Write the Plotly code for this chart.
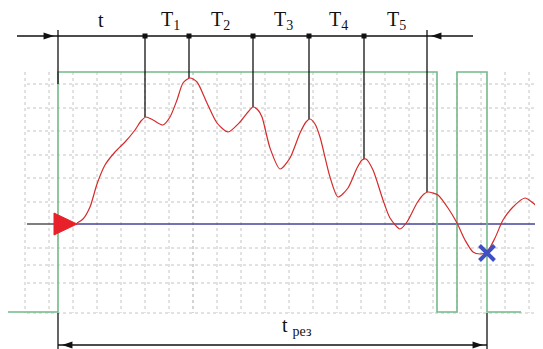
import plotly.graph_objects as go

W, H = 543, 349
PAGE_MARGIN = 8  # default body margin of the html page

# ---- data (diagram coordinates: x to the right, y downward) ----
# oscillating response curve
curve_x = [77, 83, 90, 97, 105, 115, 125, 135, 141, 146, 153, 163, 170, 177, 183, 190, 197, 207, 217, 228,
           240, 248, 253, 258, 262, 270, 280, 290, 300, 306, 310, 315, 320, 330, 338, 348, 357, 362, 366,
           373, 383, 390, 400, 407, 417, 424, 428, 433, 438, 448, 457, 465, 473, 480, 487, 495, 503, 513,
           525, 533, 543]
curve_y = [223, 219, 207, 184, 165, 152, 142, 130, 121, 117, 120, 125, 117, 100, 83, 78, 82, 103, 123, 132,
           122, 112, 107, 110, 117, 148, 169, 158, 133, 122, 119, 124, 137, 177, 197, 188, 168, 160, 159,
           170, 200, 218, 229, 222, 203, 194, 192, 193, 195, 208, 223, 240, 252, 254, 252, 238, 220, 207,
           198, 203, 212]

# square-wave (green) signal
pulse_x = [7, 58, 58, 437, 437, 457, 457, 487, 487, 521]
pulse_y = [312, 312, 72, 72, 312, 312, 72, 72, 312, 312]

# period marks (peaks) on the top scale
mark_x = [145, 189, 253, 309, 364]
mark_peak_y = [117, 78, 107, 119, 159]
end_x, end_peak_y = 427, 192

labels_top = ["t", "T<sub>1</sub>", "T<sub>2</sub>", "T<sub>3</sub>", "T<sub>4</sub>", "T<sub>5</sub>"]
labels_top_x = [101, 170, 220, 283, 338, 396]

grid_x = [25, 49, 73, 97, 121, 145, 169, 217, 241, 265, 289, 313, 337, 361, 385, 409, 433, 457,
          481, 505, 529]
grid_x_major = [193]
grid_y = [84, 108, 131, 155, 178, 202, 248, 265, 283, 313]

base_y = 224
cross_x, cross_y = 487, 253

scale_y = 36
bottom_y = 345
start_x = 58
t_res_end = 487

fig = go.Figure()

# grid
gx, gy = [], []
for x in grid_x:
    gx += [x, x, None]
    gy += [72, 313, None]
fig.add_trace(go.Scatter(x=gx, y=gy, mode="lines", line=dict(color="#c4c4c4", width=1, dash="dot"),
                         hoverinfo="skip"))
mx, my = [], []
for x in grid_x_major:
    mx += [x, x, None]
    my += [72, 313, None]
fig.add_trace(go.Scatter(x=mx, y=my, mode="lines", line=dict(color="#a8a8a8", width=1, dash="dot"),
                         hoverinfo="skip"))
hx, hy = [], []
for y in grid_y:
    hx += [27, W, None]
    hy += [y, y, None]
fig.add_trace(go.Scatter(x=hx, y=hy, mode="lines", line=dict(color="#c4c4c4", width=1, dash="dot"),
                         hoverinfo="skip"))

# baseline
fig.add_trace(go.Scatter(x=[27, 56], y=[base_y, base_y], mode="lines",
                         line=dict(color="#555555", width=1.5), hoverinfo="skip"))
fig.add_trace(go.Scatter(x=[76, W], y=[base_y, base_y], mode="lines",
                         line=dict(color="#45459a", width=1.5), hoverinfo="skip"))

# green pulse
fig.add_trace(go.Scatter(x=pulse_x, y=pulse_y, mode="lines",
                         line=dict(color="#74b98a", width=1.6), hoverinfo="skip"))

# black vertical marks
vx, vy = [], []
for x, y in zip(mark_x, mark_peak_y):
    vx += [x, x, None]
    vy += [scale_y, y, None]
vx += [start_x, start_x, None, end_x, end_x, None, start_x, start_x, None, t_res_end, t_res_end, None]
vy += [30, 84, None, 30, end_peak_y, None, 313, H, None, 313, H, None]
fig.add_trace(go.Scatter(x=vx, y=vy, mode="lines", line=dict(color="#111111", width=1.3),
                         hoverinfo="skip"))

# top and bottom scale lines
fig.add_trace(go.Scatter(x=[17, 473], y=[scale_y, scale_y], mode="lines",
                         line=dict(color="#111111", width=1.5), hoverinfo="skip"))
fig.add_trace(go.Scatter(x=[start_x, t_res_end], y=[bottom_y, bottom_y], mode="lines",
                         line=dict(color="#111111", width=1.5), hoverinfo="skip"))
fig.add_trace(go.Scatter(x=mark_x, y=[scale_y] * len(mark_x), mode="markers",
                         marker=dict(symbol="square", size=5, color="#111111"), hoverinfo="skip"))

# arrow heads (tip positions and directions)
arrow_x = [start_x - 4, end_x + 4, start_x + 4, t_res_end - 4]
arrow_y = [scale_y, scale_y, bottom_y, bottom_y]
arrow_angle = [90, -90, -90, 90]
fig.add_trace(go.Scatter(x=arrow_x, y=arrow_y, mode="markers",
                         marker=dict(symbol="arrow", size=11, angle=arrow_angle, color="#111111",
                                     line=dict(width=0)),
                         hoverinfo="skip"))

# red curve
fig.add_trace(go.Scatter(x=curve_x, y=curve_y, mode="lines",
                         line=dict(color="#d42a2a", width=1.2, shape="spline", smoothing=0.7),
                         hoverinfo="skip"))

# red triangle at start
fig.add_trace(go.Scatter(x=[54, 77, 54, 54], y=[213, base_y, 235, 213], mode="lines", fill="toself",
                         fillcolor="#e8202a", line=dict(color="#e8202a", width=1), hoverinfo="skip"))

# blue cross
fig.add_trace(go.Scatter(x=[cross_x], y=[cross_y], mode="markers",
                         marker=dict(symbol="x-thin", size=15, line=dict(color="#4050c0", width=4)),
                         hoverinfo="skip"))

serif = "Liberation Serif"
for lab, x in zip(labels_top, labels_top_x):
    fig.add_annotation(x=x, y=20, text=lab, showarrow=False, xref="x", yref="y",
                       font=dict(family=serif, size=20, color="#111111"))
fig.add_annotation(x=297, y=326, text="t <sub>рез</sub>", showarrow=False, xref="x", yref="y",
                   font=dict(family=serif, size=20, color="#111111"))

fig.update_layout(width=W - PAGE_MARGIN, height=H - PAGE_MARGIN, margin=dict(l=0, r=0, t=0, b=0),
                  showlegend=False, paper_bgcolor="white", plot_bgcolor="white")
fig.update_xaxes(range=[PAGE_MARGIN, W], visible=False, fixedrange=True)
fig.update_yaxes(range=[H, PAGE_MARGIN], visible=False, fixedrange=True)

fig.write_html("out.html")
